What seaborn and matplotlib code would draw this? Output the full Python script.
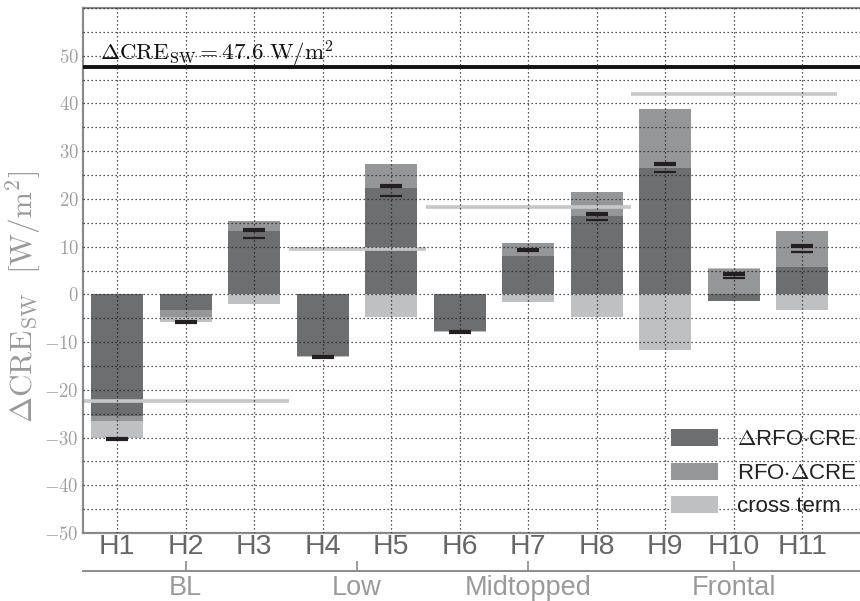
import numpy as np
import pandas as pd
import matplotlib
matplotlib.use("Agg")
import matplotlib.pyplot as plt
from matplotlib.patches import Patch
from matplotlib.ticker import FixedLocator, MultipleLocator, FuncFormatter
import seaborn as sns

# Cloud regimes and their groups
regimes = ["H1", "H2", "H3", "H4", "H5", "H6", "H7", "H8", "H9", "H10", "H11"]
groups = ["BL", "Low", "Midtopped", "Frontal"]
group_sizes = [3, 2, 3, 3]
group_means = [-22.3, 9.6, 18.3, 41.9]
total_sw = 47.6

# Decomposition of the shortwave CRE change per regime [W/m2]
d_rfo_cre = [-25.5, -3.25, 13.3, -12.9, 22.3, -7.6, 8.1, 16.45, 26.5, -1.3, 5.8]
rfo_d_cre = [-1.0, -1.4, 2.1, 0.0, 5.1, 0.0, 2.7, 5.05, 12.4, 5.3, 7.5]
cross_term = [-3.6, -1.1, -2.0, -0.3, -4.65, -0.3, -1.5, -4.65, -11.6, 0.2, -3.25]

# Summed change (thick marker) and direct change (thin marker)
total_change = [-30.2, -5.7, 13.45, -13.2, 22.7, -7.8, 9.3, 16.8, 27.4, 4.3, 10.1]
direct_change = [-30.2, -5.7, 11.9, -13.2, 20.6, -7.8, 9.3, 15.6, 25.6, 3.5, 8.8]

series_labels = [r"$\Delta$RFO$\cdot$CRE", r"RFO$\cdot\Delta$CRE", "cross term"]
series_colors = ["#6d6e70", "#959698", "#bfc0c2"]

sns.set_style("white")
plt.rcParams["font.family"] = ["Liberation Sans", "DejaVu Sans"]
plt.rcParams["mathtext.fontset"] = "cm"

fig = plt.figure(figsize=(8.6, 6.01), dpi=100)
ax = fig.add_axes([83 / 860, 1 - 533 / 601, (860 - 83) / 860, 525 / 601])

# stack positive parts upward and negative parts downward
pos_base = np.zeros(len(regimes))
neg_base = np.zeros(len(regimes))
for vals, col in zip([d_rfo_cre, rfo_d_cre, cross_term], series_colors):
    vals = np.asarray(vals, dtype=float)
    bottoms = np.where(vals >= 0, pos_base, neg_base)
    df = pd.DataFrame({"regime": regimes, "value": vals})
    sns.barplot(data=df, x="regime", y="value", order=regimes, bottom=bottoms,
                color=col, saturation=1, width=0.76, errorbar=None,
                linewidth=0, edgecolor="none", zorder=1, ax=ax)
    pos_base = pos_base + np.where(vals >= 0, vals, 0)
    neg_base = neg_base + np.where(vals < 0, vals, 0)

xpos = np.arange(len(regimes))
xmax = -0.5 + 777 / 68.5

# group mean lines
start = 0
for size, mean in zip(group_sizes, group_means):
    ax.hlines(mean, start - 0.5, start + size - 0.5, color="#c6c7c8", lw=2.6, zorder=2)
    start += size

# total shortwave change
ax.hlines(total_sw, -0.5, xmax, color="#111111", lw=2.8, zorder=4)
ax.text(-0.25, total_sw + 1.3, r"$\Delta\mathrm{CRE}_{\mathrm{SW}} = %.1f\ \mathrm{W/m^2}$" % total_sw,
        fontsize=16.5, color="#111111", va="baseline", ha="left", zorder=5)

# markers
ax.hlines(direct_change, xpos - 0.16, xpos + 0.16, color="#231f20", lw=1.6, zorder=5)
ax.hlines(total_change, xpos - 0.16, xpos + 0.16, color="#231f20", lw=3.0, zorder=6)

ax.set_xlim(-0.5, xmax)
ax.set_ylim(-50, 60)

# grid
ax.yaxis.set_major_locator(FixedLocator(np.arange(-50, 51, 10)))
ax.yaxis.set_minor_locator(MultipleLocator(5))
ax.yaxis.set_major_formatter(FuncFormatter(lambda v, p: r"$%d$" % v))
ax.set_xticks(xpos)
ax.set_xticklabels(regimes)
ax.grid(True, which="both", axis="y", ls=(0, (1, 2.2)), color="#222222", lw=0.9, zorder=3)
ax.grid(True, which="major", axis="x", ls=(0, (1, 2.2)), color="#222222", lw=0.9, zorder=3)
ax.set_axisbelow(False)

for side in ["left", "top", "bottom"]:
    ax.spines[side].set_color("#8a8a8a")
    ax.spines[side].set_linewidth(1.6)
ax.spines["right"].set_visible(False)

ax.tick_params(axis="y", which="major", direction="in", length=7, width=1.2,
               color="#8a8a8a", labelcolor="#a0a0a0", labelsize=13.5, pad=3)
ax.tick_params(axis="y", which="minor", length=0)
ax.tick_params(axis="x", direction="in", length=7, width=1.2, color="#8a8a8a",
               labelcolor="#666666", labelsize=20.5, pad=1)
ax.set_xlabel("")
ax.set_ylabel(r"$\Delta\mathrm{CRE}_{\mathrm{SW}}\ \ [\mathrm{W/m^2}]$", fontsize=22.5, color="#9a9a9a")
ax.yaxis.set_label_coords(-0.052, 0.45)

# regime groups on a second axis below
centers = []
start = 0
for size in group_sizes:
    centers.append(start + (size - 1) / 2)
    start += size
sec = ax.secondary_xaxis(-38 / 525)
sec.set_xticks(centers)
sec.set_xticklabels(groups)
sec.spines["bottom"].set_color("#8a8a8a")
sec.spines["bottom"].set_linewidth(1.4)
sec.tick_params(axis="x", direction="in", length=7, width=1.2, color="#8a8a8a",
                labelcolor="#9a9a9a", labelsize=19.5, pad=3)

handles = [Patch(facecolor=c, edgecolor="none") for c in series_colors]
ax.legend(handles, series_labels, loc="lower right", bbox_to_anchor=(1.021, -0.008),
          frameon=False, fontsize=16, handlelength=2.1, handleheight=0.8,
          labelspacing=0.55, handletextpad=0.85, labelcolor="#222222")

fig.savefig("out.png", dpi=100)
